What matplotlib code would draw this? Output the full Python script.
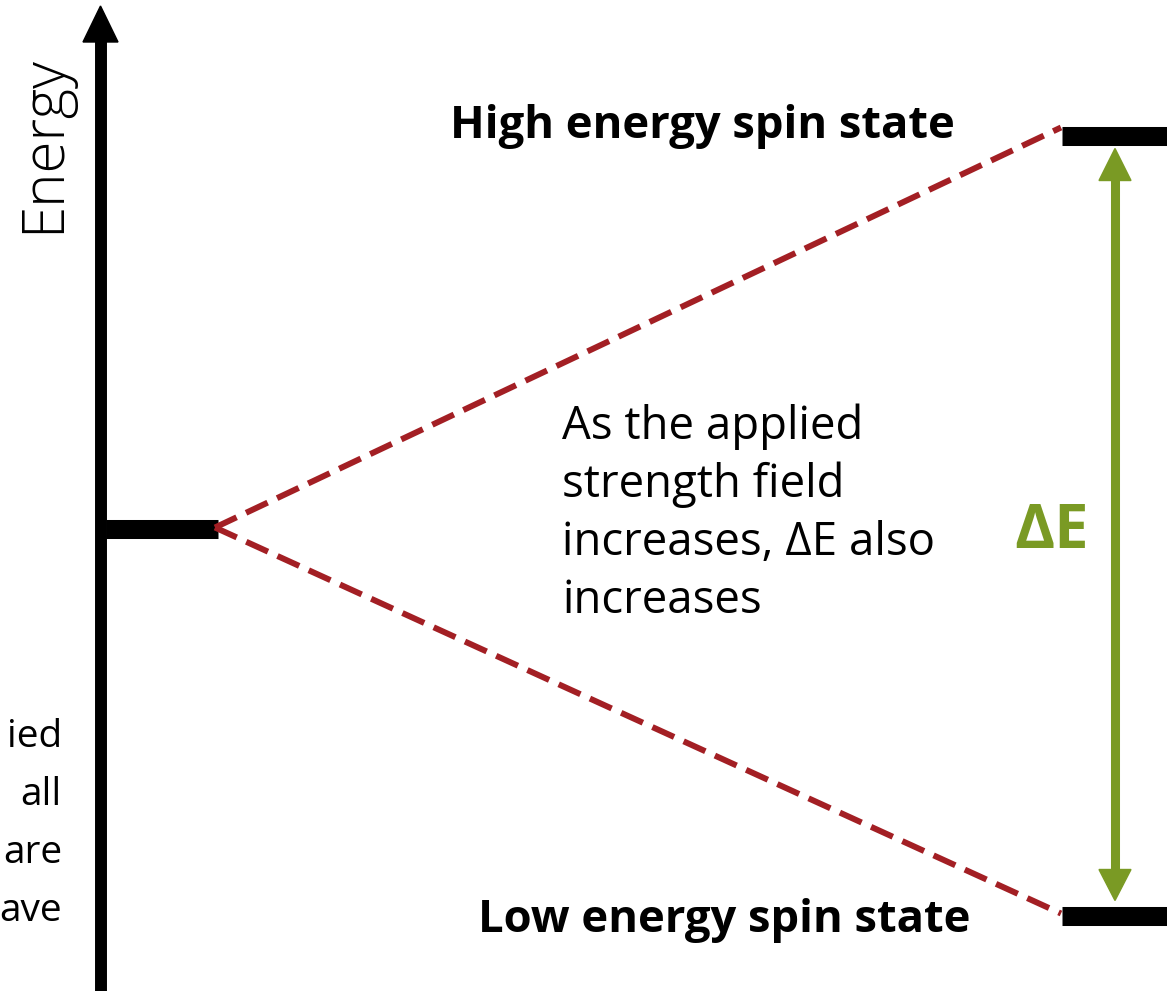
import matplotlib
matplotlib.use("Agg")
import matplotlib.pyplot as plt
from matplotlib.patches import Polygon

# ---- diagram data (pixel-like coordinates, y grows downward) ----
level_labels = ["High energy spin state", "Low energy spin state"]
level_y = [135.5, 915.5]      # split levels
zero_field_y = 528.5          # degenerate level without field
delta_label = "ΔE"
middle_text = ["As the applied", "strength field", "increases, ΔE also", "increases"]
left_text = ["ied", "all", "are", "ave"]   # visible ends of a cropped text

RED = "#A31F24"
GREEN = "#7A9A24"

fig = plt.figure(figsize=(11.67, 9.91), dpi=100)
ax = fig.add_axes([0, 0, 1, 1])
ax.set_xlim(0, 1167)
ax.set_ylim(991, 0)
ax.axis("off")

font = "Open Sans"

# energy axis arrow
ax.plot([101, 101], [991, 38], color="black", lw=8.6, solid_capstyle="butt")
ax.add_patch(Polygon([[83, 42], [118, 42], [100.5, 6]], closed=True, color="black"))
ax.text(44, 144, "Energy", rotation=90, ha="center", va="center",
        fontsize=42, family=font, fontweight="light", color="black")

# energy levels
ax.plot([106, 218], [zero_field_y, zero_field_y], color="black", lw=13.7, solid_capstyle="butt")
for y in level_y:
    ax.plot([1062, 1167], [y, y], color="black", lw=13.7, solid_capstyle="butt")

# dashed splitting lines
for y in level_y:
    ax.plot([215, 1061], [zero_field_y - 1, y + (-8 if y < zero_field_y else -2)],
            color=RED, lw=4.3, ls=(0, (4.0, 1.75)), dash_capstyle="butt")

# delta E double arrow
x_arr = 1115
ax.plot([x_arr, x_arr], [level_y[0] + 40, level_y[1] - 40], color=GREEN, lw=6.5,
        solid_capstyle="butt")
ax.add_patch(Polygon([[x_arr - 16, level_y[0] + 45], [x_arr + 16, level_y[0] + 45],
                      [x_arr, level_y[0] + 13]], closed=True, color=GREEN))
ax.add_patch(Polygon([[x_arr - 16, level_y[1] - 46], [x_arr + 16, level_y[1] - 46],
                      [x_arr, level_y[1] - 15]], closed=True, color=GREEN))
ax.text(1052, 548, delta_label, ha="center", va="baseline", fontsize=44,
        fontweight="bold", family=font, color=GREEN)

# labels
ax.text(702, 138, level_labels[0], ha="center", va="baseline", fontsize=32.7,
        fontweight="bold", family=font, color="black")
ax.text(724, 932, level_labels[1], ha="center", va="baseline", fontsize=32.7,
        fontweight="bold", family=font, color="black")

for i, line in enumerate(middle_text):
    ax.text(562, 439 + i * 58, line, ha="left", va="baseline", fontsize=32.8,
            family=font, color="black")

for i, line in enumerate(left_text):
    ax.text(62, 747 + i * 58, line, ha="right", va="baseline", fontsize=28,
            family=font, color="black")

fig.savefig("out.png", dpi=100)
